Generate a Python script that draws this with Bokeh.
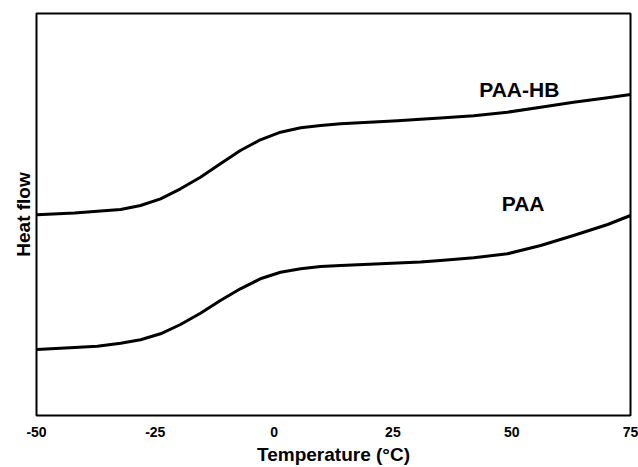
from bokeh.plotting import figure
from bokeh.models import Label, FixedTicker
from bokeh.embed import file_html
from bokeh.resources import INLINE

# Temperature (°C) and heat flow (arbitrary units)
temp_hb = [-49.9, -42.0, -37.2, -32.3, -28.1, -23.9, -19.7, -15.5, -11.3, -7.1, -2.9, 1.35, 5.6, 9.8, 14.0,
           20.0, 26.0, 30.8, 35.0, 42.0, 49.1, 56.1, 63.0, 70.2, 75.0]
heat_hb = [200.7, 202.5, 204.3, 206.0, 210.0, 216.7, 226.7, 238.3, 251.7, 265.0, 275.7, 283.3, 287.7, 290.0, 291.7,
           293.2, 294.8, 296.2, 297.5, 299.8, 303.3, 308.3, 313.3, 317.7, 321.0]

temp_paa = [-49.9, -42.0, -37.2, -32.3, -28.1, -23.9, -19.7, -15.5, -11.3, -7.1, -2.9, 1.35, 5.6, 9.8, 14.0,
            20.0, 26.0, 30.8, 35.0, 42.0, 49.1, 56.1, 63.0, 70.2, 75.0]
heat_paa = [66.0, 68.0, 69.3, 72.3, 75.7, 81.7, 91.0, 102.3, 115.0, 126.7, 136.7, 143.3, 146.7, 149.0, 150.0,
            151.3, 152.5, 153.5, 155.0, 157.7, 161.7, 170.0, 180.0, 191.0, 200.0]

x_ticks = [-50, -25, 0, 25, 50, 75]
x_tick_labels = {-50: "-50", -25: "-25", 0: "0", 25: "25", 50: "50", 75: "75"}
series_names = ["PAA-HB", "PAA"]
label_pos_x = [51.6, 52.4]
label_pos_y = [326, 212.5]

FONT = "Liberation Sans"

p = figure(width=638, height=467, x_range=(-50, 75), y_range=(0, 402),
           output_backend="svg", toolbar_location=None,
           min_border_left=36, min_border_right=8, min_border_top=13, min_border_bottom=52)

p.line(temp_hb, heat_hb, line_color="black", line_width=3, line_join="round")
p.line(temp_paa, heat_paa, line_color="black", line_width=3, line_join="round")

for name, lx, ly in zip(series_names, label_pos_x, label_pos_y):
    p.add_layout(Label(x=lx, y=ly, text=name, text_align="center", text_baseline="middle",
                       text_font=FONT, text_font_style="bold", text_font_size="21px",
                       text_color="black"))

p.grid.visible = False
p.outline_line_color = "black"
p.outline_line_width = 2

p.xaxis.ticker = FixedTicker(ticks=x_ticks)
p.xaxis.major_label_overrides = x_tick_labels
p.xaxis.axis_line_color = None
p.xaxis.major_tick_line_color = None
p.xaxis.minor_tick_line_color = None
p.xaxis.major_tick_out = 0
p.xaxis.major_tick_in = 0
p.xaxis.minor_tick_out = 0
p.xaxis.major_label_standoff = 11
p.xaxis.major_label_text_font = FONT
p.xaxis.major_label_text_font_style = "bold"
p.xaxis.major_label_text_font_size = "14px"
p.xaxis.major_label_text_color = "black"
p.xaxis.axis_label = "Temperature (°C)"
p.xaxis.axis_label_text_font = FONT
p.xaxis.axis_label_text_font_style = "bold"
p.xaxis.axis_label_text_font_size = "19px"
p.xaxis.axis_label_text_color = "black"
p.xaxis.axis_label_standoff = 4

p.yaxis.ticker = FixedTicker(ticks=[])
p.yaxis.axis_line_color = None
p.yaxis.major_tick_line_color = None
p.yaxis.minor_tick_line_color = None
p.yaxis.major_tick_out = 0
p.yaxis.major_tick_in = 0
p.yaxis.minor_tick_out = 0
p.yaxis.major_label_standoff = 0
p.yaxis.major_label_text_font_size = "0px"
p.yaxis.axis_label = "Heat flow"
p.yaxis.axis_label_text_font = FONT
p.yaxis.axis_label_text_font_style = "bold"
p.yaxis.axis_label_text_font_size = "19px"
p.yaxis.axis_label_text_color = "black"
p.yaxis.axis_label_standoff = 3

p.background_fill_color = "white"
p.border_fill_color = "white"

open("out.html", "w").write(file_html(p, INLINE))
